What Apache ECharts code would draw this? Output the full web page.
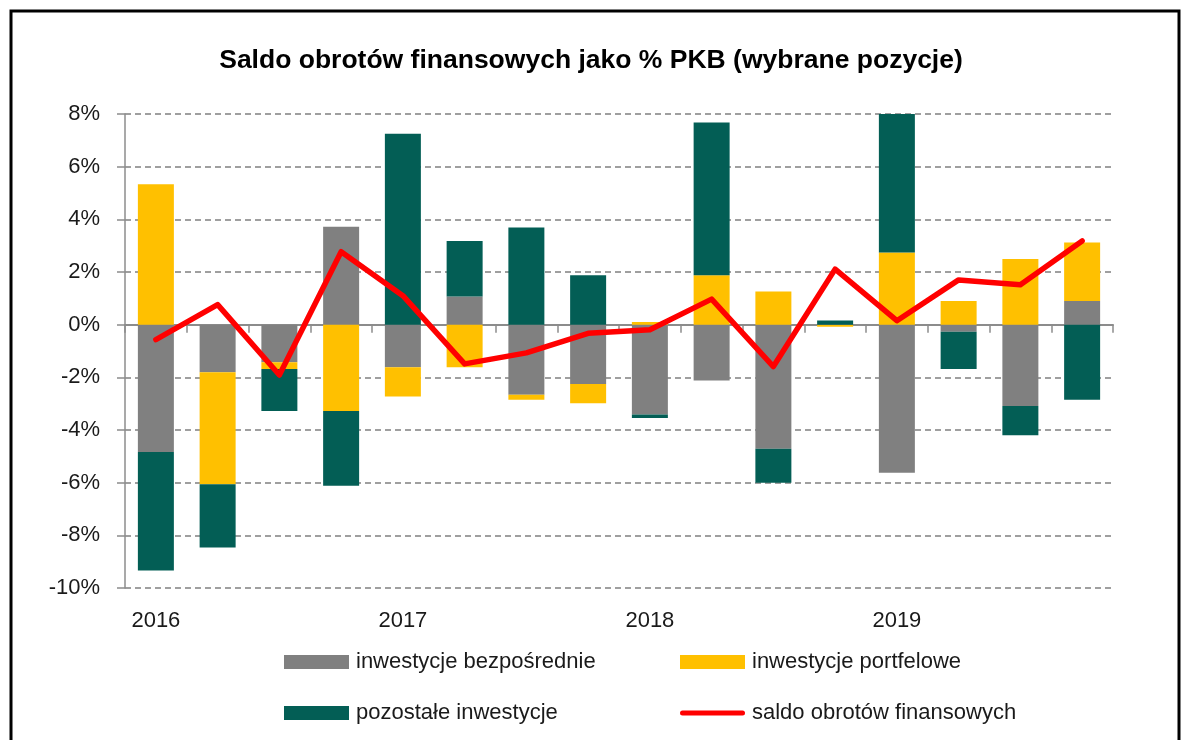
<!DOCTYPE html>
<html>
<head>
<meta charset="utf-8">
<script src="https://cdn.jsdelivr.net/npm/echarts@6/dist/echarts.min.js"></script>
<style>
  html, body { margin: 0; padding: 0; background: #fff; }
  #chart { width: 1182px; height: 740px; }
</style>
</head>
<body>
<div id="chart"></div>
<script>
// quarters 2016Q1 .. 2019Q4, values in % of GDP
const quarters = ['2016Q1', '2016Q2', '2016Q3', '2016Q4', '2017Q1', '2017Q2', '2017Q3', '2017Q4',
                  '2018Q1', '2018Q2', '2018Q3', '2018Q4', '2019Q1', '2019Q2', '2019Q3', '2019Q4'];
const bezposrednie = [-4.84, -1.81, -1.43, 3.72, -1.62, 1.07, -2.66, -2.25, -3.41, -2.12, -4.71, 0, -5.62, -0.27, -3.09, 0.90];
const portfelowe = [5.33, -4.25, -0.25, -3.28, -1.11, -1.62, -0.19, -0.73, 0.10, 1.88, 1.26, -0.08, 2.74, 0.90, 2.49, 2.22];
const pozostale = [-4.50, -2.40, -1.60, -2.84, 7.25, 2.11, 3.69, 1.88, -0.13, 5.80, -1.29, 0.16, 5.26, -1.41, -1.11, -2.85];
const saldo = [-0.57, 0.76, -1.91, 2.77, 1.10, -1.49, -1.07, -0.33, -0.19, 0.97, -1.59, 2.11, 0.15, 1.70, 1.52, 3.18];

const font = '"Liberation Sans", Arial, sans-serif';
const txt = '#1a1a1a';
// thick rounded line used as legend icon for the line series
const lineIcon = 'path://M2.5,0 L62.5,0 A2.5,2.5 0 0 1 62.5,5 L2.5,5 A2.5,2.5 0 0 1 2.5,0 Z';

let inst = echarts.init(document.getElementById('chart'));

let legendBase = {
  orient: 'vertical', top: 651, padding: 0, itemWidth: 65, itemHeight: 14, itemGap: 29,
  textStyle: { fontSize: 22, color: txt, fontFamily: font, padding: [0, 0, 0, 2] }
};

let option = {
  animation: false,
  textStyle: { fontFamily: font },
  title: {
    text: 'Saldo obrotów finansowych jako % PKB (wybrane pozycje)',
    left: 'center',
    top: 42,
    textStyle: { fontSize: 26.5, fontWeight: 'bold', color: '#000', fontFamily: font }
  },
  graphic: [{
    type: 'rect',
    shape: { x: 11, y: 11, width: 1168, height: 1000 },
    style: { fill: 'none', stroke: '#000', lineWidth: 3 },
    silent: true
  }],
  legend: [
    Object.assign({}, legendBase, {
      left: 284,
      data: [{ name: 'inwestycje bezpośrednie', icon: 'rect' }, { name: 'pozostałe inwestycje', icon: 'rect' }]
    }),
    Object.assign({}, legendBase, {
      left: 680,
      data: [{ name: 'inwestycje portfelowe', icon: 'rect' }, { name: 'saldo obrotów finansowych', icon: lineIcon }]
    })
  ],
  grid: { left: 125, right: 69, top: 114, bottom: 152 },
  xAxis: [
    {
      type: 'category',
      data: quarters,
      axisLine: { show: false, onZero: false },
      axisTick: { show: false },
      axisLabel: {
        interval: 0, margin: 22, fontSize: 22, color: txt,
        formatter: v => v.endsWith('Q1') ? v.slice(0, 4) : ''
      }
    },
    {
      type: 'category',
      data: quarters,
      position: 'bottom',
      axisLine: { onZero: true, lineStyle: { color: '#8c8c8c', width: 2 } },
      axisTick: { show: true, length: 8, lineStyle: { color: '#8c8c8c', width: 1.5 } },
      axisLabel: { show: false }
    }
  ],
  yAxis: {
    type: 'value',
    min: -10, max: 8, interval: 2,
    axisLine: { show: true, lineStyle: { color: '#8c8c8c', width: 1.5 } },
    axisTick: { show: true, length: 8, lineStyle: { color: '#8c8c8c', width: 1.5 } },
    axisLabel: { margin: 25, fontSize: 22, color: txt, formatter: v => v + '%' },
    splitLine: { lineStyle: { color: '#808080', width: 1.5, type: [6, 4] } }
  },
  series: [
    {
      name: 'inwestycje bezpośrednie', type: 'bar', stack: 'a', data: bezposrednie,
      barWidth: 36, itemStyle: { color: '#808080' }
    },
    {
      name: 'inwestycje portfelowe', type: 'bar', stack: 'a', data: portfelowe,
      barWidth: 36, itemStyle: { color: '#FFC000' }
    },
    {
      name: 'pozostałe inwestycje', type: 'bar', stack: 'a', data: pozostale,
      barWidth: 36, itemStyle: { color: '#035E55' }
    },
    {
      name: 'saldo obrotów finansowych', type: 'line', data: saldo,
      symbol: 'none', z: 5,
      lineStyle: { color: '#FF0000', width: 5.5, cap: 'round', join: 'round' },
      itemStyle: { color: '#FF0000' }
    }
  ]
};
inst.setOption(option);
</script>
</body>
</html>
